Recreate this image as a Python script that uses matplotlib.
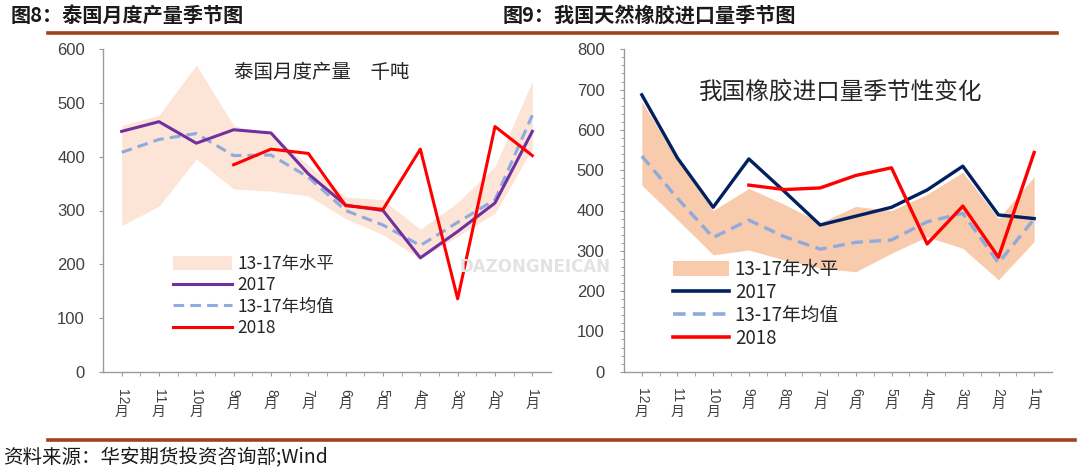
import numpy as np
import matplotlib
matplotlib.use("Agg")
import matplotlib.pyplot as plt
from matplotlib import font_manager
from matplotlib.patches import Patch
from matplotlib.lines import Line2D
from matplotlib.transforms import blended_transform_factory

# ---------------- data ----------------
month_nums = ['12', '11', '10', '9', '8', '7', '6', '5', '4', '3', '2', '1']
month_suffix = '月'

th_2017 = [447, 465, 425, 450, 444, 368, 310, 300, 212, 261, 314, 447]
th_2018 = [np.nan, np.nan, np.nan, 385, 414, 406, 309, 302, 414, 136, 456, 402]
th_mean = [408, 432, 443, 402, 403, 362, 300, 273, 235, 278, 320, 477]
th_upper = [458, 477, 570, 458, 440, 385, 325, 320, 265, 315, 382, 540]
th_lower = [272, 308, 396, 340, 336, 327, 285, 255, 210, 252, 295, 415]

cn_2017 = [687, 530, 408, 528, 447, 364, 386, 408, 451, 510, 389, 380]
cn_2018 = [np.nan, np.nan, np.nan, 463, 452, 456, 487, 506, 317, 411, 284, 544]
cn_mean = [535, 430, 333, 376, 335, 304, 321, 327, 372, 393, 270, 379]
cn_upper = [670, 525, 400, 455, 415, 370, 410, 400, 440, 495, 380, 484]
cn_lower = [463, 377, 290, 302, 277, 257, 248, 294, 335, 306, 228, 323]

left_title = '图8：泰国月度产量季节图'
right_title = '图9：我国天然橡胶进口量季节图'
left_inner = '泰国月度产量\u3000千吨'
right_inner = '我国橡胶进口量季节性变化'
legend_labels = ['13-17年水平', '2017', '13-17年均值', '2018']
source_text = '资料来源：华安期货投资咨询部;Wind'

# ---------------- fonts ----------------
avail = {f.name for f in font_manager.fontManager.ttflist}
num_font = 'Liberation Sans Narrow' if 'Liberation Sans Narrow' in avail else 'Liberation Sans'
cjk = ['Noto Sans CJK SC', 'DejaVu Sans']
plt.rcParams['font.family'] = cjk

W, H = 1080, 475
fig = plt.figure(figsize=(W / 100, H / 100), dpi=100)
fig.patch.set_facecolor('white')


def fx(px):
    return px / W


def fy(py):
    return 1 - py / H


AX_COLOR = '#9a9a9a'
BAND_L = '#fce4d6'
BAND_R = '#f8cbad'
PURPLE = '#7030a0'
NAVY = '#002060'
DASH = '#8faadc'
RED = '#ff0000'


def style_axes(ax, ymax, ystep, minor_step=None, ypad=9.5):
    x = np.arange(len(month_nums))
    for s in ['top', 'right']:
        ax.spines[s].set_visible(False)
    for s in ['left', 'bottom']:
        ax.spines[s].set_color(AX_COLOR)
        ax.spines[s].set_linewidth(1.0)
    ax.set_xlim(-0.5, len(month_nums) - 0.5)
    ax.set_ylim(0, ymax)
    ax.set_yticks(np.arange(0, ymax + 1, ystep))
    if minor_step:
        ax.set_yticks(np.arange(0, ymax + 1, minor_step), minor=True)
    ax.set_xticks(x)
    ax.set_xticks(x[:-1] + 0.5, minor=True)
    ax.set_xticklabels(month_nums, rotation=-90, va='top', ha='center',
                       fontsize=10, family=num_font, color='#404040')
    ax.tick_params(axis='x', which='both', length=3, color=AX_COLOR, pad=9)
    ax.tick_params(axis='y', which='major', length=3, color=AX_COLOR, pad=ypad)
    ax.tick_params(axis='y', which='minor', length=2, color=AX_COLOR)
    for lab in ax.get_yticklabels():
        lab.set_family(num_font)
        lab.set_fontsize(12)
        lab.set_color('#404040')
    trans = blended_transform_factory(ax.transData, ax.transAxes)
    for i, m in enumerate(month_nums):
        off = 3 + 9 + len(m) * 5.6 + 0.5
        ax.annotate(month_suffix, xy=(i, 0), xycoords=trans,
                    xytext=(0, -off), textcoords='offset points',
                    ha='center', va='top', fontsize=10, color='#404040',
                    annotation_clip=False)
    return x


# ---------------- left chart ----------------
axL = fig.add_axes([fx(103), fy(372), fx(551 - 103), (372 - 49) / H])
x = style_axes(axL, 600, 100, ypad=10)
axL.fill_between(x, th_lower, th_upper, color=BAND_L, lw=0, zorder=1)
axL.plot(x, th_mean, color=DASH, lw=2.2, ls=(0, (3.5, 2.0)), zorder=2)
axL.plot(x, th_2017, color=PURPLE, lw=2.2, zorder=3)
axL.plot(x, th_2018, color=RED, lw=2.2, zorder=4)
fig.text(fx(234), fy(73), left_inner, fontsize=14, va='center', ha='left', color='#262626')

hL = [Patch(facecolor=BAND_L, edgecolor='none'),
      Line2D([], [], color=PURPLE, lw=2.2),
      Line2D([], [], color=DASH, lw=2.2, ls=(0, (3.5, 2.0))),
      Line2D([], [], color=RED, lw=2.2)]
legL = fig.legend(hL, legend_labels, loc='upper left',
                  bbox_to_anchor=(fx(173), fy(255)), bbox_transform=fig.transFigure,
                  frameon=False, fontsize=12.5, handlelength=3.4, handletextpad=0.3,
                  labelspacing=0.2, borderpad=0, borderaxespad=0, handleheight=0.9)
for t in legL.get_texts():
    t.set_color('#262626')

# ---------------- right chart ----------------
axR = fig.add_axes([fx(624), fy(371.7), fx(1052 - 624), (371.7 - 49.3) / H])
x = style_axes(axR, 800, 100, minor_step=20, ypad=11)
axR.fill_between(x, cn_lower, cn_upper, color=BAND_R, lw=0, zorder=1)
axR.plot(x, cn_mean, color=DASH, lw=2.4, ls=(0, (3.5, 2.0)), zorder=2)
axR.plot(x, cn_2017, color=NAVY, lw=2.4, zorder=3)
axR.plot(x, cn_2018, color=RED, lw=2.4, zorder=4)
fig.text(fx(699), fy(92), right_inner, fontsize=17, va='center', ha='left', color='#262626')

hR = [Patch(facecolor=BAND_R, edgecolor='none'),
      Line2D([], [], color=NAVY, lw=2.6),
      Line2D([], [], color=DASH, lw=2.6, ls=(0, (3.5, 2.0))),
      Line2D([], [], color=RED, lw=2.6)]
legR = fig.legend(hR, legend_labels, loc='upper left',
                  bbox_to_anchor=(fx(673), fy(259)), bbox_transform=fig.transFigure,
                  frameon=False, fontsize=13.5, handlelength=3.0, handletextpad=0.3,
                  labelspacing=0.1, borderpad=0, borderaxespad=0, handleheight=0.9)
for t in legR.get_texts():
    t.set_color('#262626')

# watermark text
fig.text(fx(535), fy(267), 'DAZONGNEICAN', fontsize=12, fontweight='bold',
         color='#e3e3e3', ha='center', va='center', family='DejaVu Sans', zorder=0)

# ---------------- header / footer ----------------
fig.text(fx(11), fy(15), left_title, fontsize=14.5, fontweight='bold', va='center', ha='left', color='#1a1a1a')
fig.text(fx(503), fy(15), right_title, fontsize=14.5, fontweight='bold', va='center', ha='left', color='#1a1a1a')
fig.add_artist(Line2D([fx(48), fx(1057)], [fy(33), fy(33)], color='#a0421e', lw=2.6))
fig.add_artist(Line2D([fx(48), fx(1075)], [fy(440), fy(440)], color='#a0421e', lw=2.6))
fig.text(fx(3), fy(458), source_text, fontsize=14, va='center', ha='left', color='#1a1a1a')

fig.savefig('out.png', dpi=100, facecolor='white')
